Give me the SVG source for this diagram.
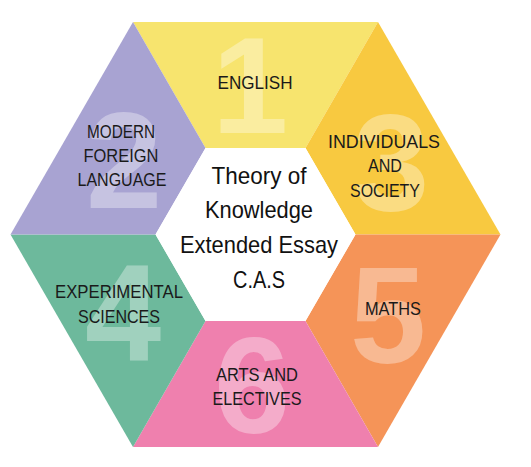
<svg xmlns="http://www.w3.org/2000/svg" width="531" height="467" viewBox="0 0 531 467">
<style>
.num{font-family:"Liberation Sans",Arial,sans-serif;font-weight:bold;font-size:137px;fill:#ffffff;fill-opacity:0.35;text-anchor:middle}
.lbl{font-family:"Liberation Sans",Arial,sans-serif;font-size:17.5px;fill:#1a1a1a;text-anchor:middle}
.core{font-family:"Liberation Sans",Arial,sans-serif;font-size:24px;fill:#111111;text-anchor:middle}
</style>
<rect width="531" height="467" fill="#ffffff"/>
<g id="english">
<polygon points="133,22 378,22 305.5,148 205.5,148" fill="#f7e46e"/>
<text class="num" x="250" y="133">1</text>
<text class="lbl" x="255" y="89" textLength="75" lengthAdjust="spacingAndGlyphs">ENGLISH</text>
</g>
<g id="individuals">
<polygon points="378,22 500.5,234.5 355.5,234.5 305.5,148" fill="#f8c940"/>
<text class="num" x="391" y="210">3</text>
<text class="lbl" x="384" y="148" textLength="112" lengthAdjust="spacingAndGlyphs">INDIVIDUALS</text>
<text class="lbl" x="385" y="172" textLength="34" lengthAdjust="spacingAndGlyphs">AND</text>
<text class="lbl" x="385" y="197" textLength="70" lengthAdjust="spacingAndGlyphs">SOCIETY</text>
</g>
<g id="maths">
<polygon points="500.5,234.5 378,447 305.5,321 355.5,234.5" fill="#f59458"/>
<text class="num" x="388" y="363">5</text>
<text class="lbl" x="393" y="315" textLength="56" lengthAdjust="spacingAndGlyphs">MATHS</text>
</g>
<g id="arts">
<polygon points="378,447 133,447 205.5,321 305.5,321" fill="#ef80ae"/>
<text class="num" x="252" y="433">6</text>
<text class="lbl" x="257" y="381" textLength="82" lengthAdjust="spacingAndGlyphs">ARTS AND</text>
<text class="lbl" x="257" y="405" textLength="89" lengthAdjust="spacingAndGlyphs">ELECTIVES</text>
</g>
<g id="sciences">
<polygon points="133,447 10.5,234.5 155.5,234.5 205.5,321" fill="#6db99c"/>
<text class="num" x="123" y="360">4</text>
<text class="lbl" x="119" y="298" textLength="128" lengthAdjust="spacingAndGlyphs">EXPERIMENTAL</text>
<text class="lbl" x="119" y="323" textLength="82" lengthAdjust="spacingAndGlyphs">SCIENCES</text>
</g>
<g id="language">
<polygon points="10.5,234.5 133,22 205.5,148 155.5,234.5" fill="#a8a3d2"/>
<text class="num" x="124" y="208">2</text>
<text class="lbl" x="121" y="138" textLength="68" lengthAdjust="spacingAndGlyphs">MODERN</text>
<text class="lbl" x="121" y="161.5" textLength="75" lengthAdjust="spacingAndGlyphs">FOREIGN</text>
<text class="lbl" x="122" y="185.5" textLength="89" lengthAdjust="spacingAndGlyphs">LANGUAGE</text>
</g>
<g id="core">
<polygon points="205.5,148 305.5,148 355.5,234.5 305.5,321 205.5,321 155.5,234.5" fill="#ffffff"/>
<text class="core" x="259" y="184" textLength="95" lengthAdjust="spacingAndGlyphs">Theory of</text>
<text class="core" x="259" y="218" textLength="108" lengthAdjust="spacingAndGlyphs">Knowledge</text>
<text class="core" x="259" y="253" textLength="158" lengthAdjust="spacingAndGlyphs">Extended Essay</text>
<text class="core" x="259" y="288" textLength="52" lengthAdjust="spacingAndGlyphs">C.A.S</text>
</g>
<g id="connectors"/>
</svg>
